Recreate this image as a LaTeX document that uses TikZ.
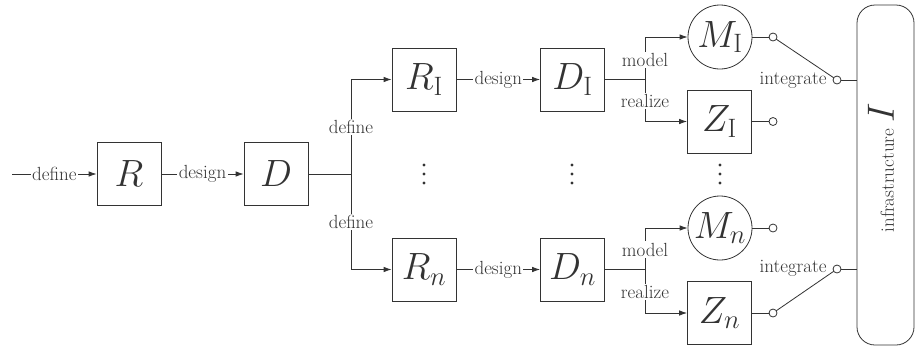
\RequirePackage{fix-cm}
\documentclass[tikz,border=0pt]{standalone}
\usetikzlibrary{positioning,arrows.meta}

\begin{document}
\begin{tikzpicture}[
x=1pt, y=-1pt,
line width=0.8pt,
color=black!80,
every node/.style={font=\fontsize{19}{22}\selectfont},
block/.style={
    draw,
    minimum width=64pt,
    minimum height=63pt,
    inner sep=0pt,
    font=\fontsize{38}{42}\selectfont
},
modelcirc/.style={block, circle, minimum size=64pt},
lbl/.style={fill=white, inner sep=1.5pt},
port/.style={draw, circle, fill=white, inner sep=0pt, minimum size=8pt},
>={Latex[length=8pt,width=5.5pt]}
]
\useasboundingbox (0,0) rectangle (915,349);

% main chain
\coordinate (in) at (12,174);
\node[block] (R) at (129,174) {$R$};
\node[block] (D) at (276,174) {$D$};
\coordinate (split) at (351,174);

% the n requirement/design pairs
\node[block] (R1) at (424,79.5) {$R_{\mathrm{I}}$};
\node[block] (Rn) at (424,269.5) {$R_n$};
\node[block] (D1) at (572.5,79.5) {$D_{\mathrm{I}}$};
\node[block] (Dn) at (572.5,269.5) {$D_n$};
\coordinate (fork1) at (645,79.5);
\coordinate (forkn) at (645,269.5);

% models and realizations
\node[modelcirc] (M1) at (720,37) {$M_{\mathrm{I}}$};
\node[block] (Z1) at (719.5,121.5) {$Z_{\mathrm{I}}$};
\node[modelcirc] (Mn) at (720,228) {$M_n$};
\node[block] (Zn) at (719.5,313) {$Z_n$};

% infrastructure
\node[draw, rounded corners=18pt, minimum width=57pt, minimum height=340pt,
      inner sep=0pt] (infra) at (885.5,175) {};
\node[rotate=90] (infratext) at (881,168)
{infrastructure {\fontsize{38}{42}\selectfont$I$}};

\draw[->] (in) -- node[lbl]{define} (R);
\draw[->] (R) -- node[lbl]{design} (D);
\draw (D) -- (split);
\draw[->] (split) |- node[lbl,pos=0.25]{define} (R1);
\draw[->] (split) |- node[lbl,pos=0.25]{define} (Rn);
\draw[->] (R1) -- node[lbl]{design} (D1);
\draw[->] (Rn) -- node[lbl]{design} (Dn);

\draw (D1) -- (fork1);
\draw ([yshift=-8pt]fork1) -- ([yshift=8pt]fork1);
\draw[->] (fork1) |- node[lbl,pos=0.23]{model} (M1);
\draw[->] (fork1) |- node[lbl,pos=0.253]{realize} (Z1);
\draw (Dn) -- (forkn);
\draw ([yshift=-8pt]forkn) -- ([yshift=8pt]forkn);
\draw[->] (forkn) |- node[lbl,pos=0.24]{model} (Mn);
\draw[->] (forkn) |- node[lbl,pos=0.256]{realize} (Zn);

% outputs and switches
\coordinate (pM1) at (773,37);
\coordinate (pZ1) at (773,121.5);
\coordinate (pMn) at (773,228);
\coordinate (pZn) at (773,313);
\coordinate (sw1) at (837,80);
\coordinate (swn) at (837,269);

\draw (M1) -- (pM1);
\draw (Z1) -- (pZ1);
\draw (Mn) -- (pMn);
\draw (Zn) -- (pZn);
\draw (pM1) -- (sw1);
\draw (pZn) -- (swn);
\draw (sw1) -- (sw1 -| infra.west);
\draw (swn) -- (swn -| infra.west);

\foreach \p in {pM1,pZ1,pMn,pZn,sw1,swn}
    \node[port] at (\p) {};

\node[inner sep=1pt, left=9pt of sw1] (int1) {integrate};
\node[inner sep=1pt, left=9pt of swn, yshift=1pt] (intn) {integrate};

% vertical dots
\foreach \x in {424,572,720}
    \foreach \dy in {-9,0,9}
        \fill (\x,174+\dy) circle (1.6pt);

\end{tikzpicture}
\end{document}
